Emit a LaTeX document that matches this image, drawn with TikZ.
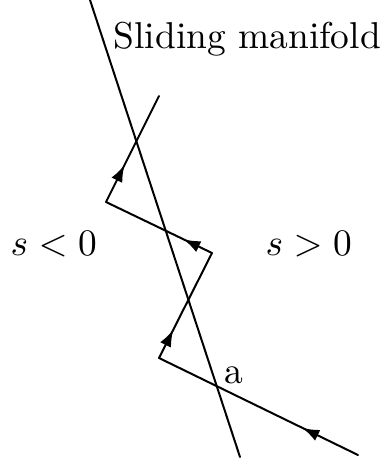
\documentclass[tikz,border=0pt]{standalone}
\usetikzlibrary{arrows.meta,decorations.markings}
\begin{document}
\begin{tikzpicture}[x=0.5pt,y=-0.5pt,
  curve/.style={line width=1pt,line cap=round,line join=round},
  flowarrow/.style={curve,decoration={markings,
      mark=at position #1 with {\arrow{Latex[length=8.5pt,width=6pt]}}},
      postaction={decorate}},
  lbl/.style={inner sep=0pt,anchor=base west,scale=1.87,font=\fontsize{10}{12}\selectfont}]
\useasboundingbox (0,0) rectangle (381,461);
% sliding manifold
\coordinate (mtop) at (90,0);
\coordinate (mbot) at (240,457);
\draw[curve] (mtop) -- (mbot);
% trajectory
\coordinate (p0) at (358,455);
\coordinate (p1) at (159,358);
\coordinate (p2) at (212,253);
\coordinate (p3) at (106,202);
\coordinate (p4) at (159,96);
\draw[flowarrow=0.28] (p0) -- (p1);
\draw[flowarrow=0.27] (p1) -- (p2);
\draw[flowarrow=0.27] (p2) -- (p3);
\draw[flowarrow=0.35] (p3) -- (p4);
% labels
\node[lbl] (title) at (113,48) {Sliding manifold};
\node[lbl] (neg) at (10,255) {$s<0$};
\node[lbl] (pos) at (265,255) {$s>0$};
\node[lbl] (a) at (224,383) {a};
\end{tikzpicture}
\end{document}
